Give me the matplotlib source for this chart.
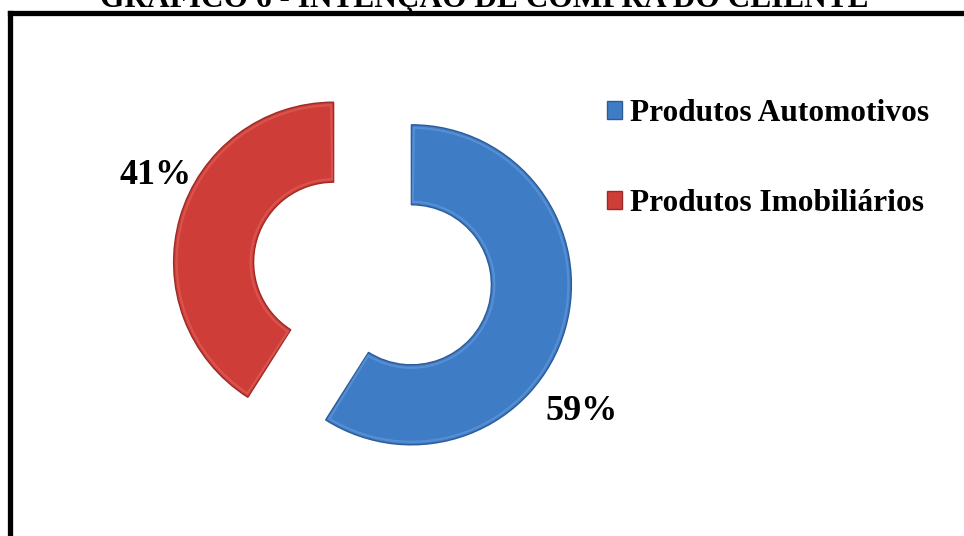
import matplotlib
matplotlib.use("Agg")
import matplotlib.pyplot as plt
from matplotlib.patches import Wedge
from matplotlib.lines import Line2D

# Data
categories = ["Produtos Automotivos", "Produtos Imobiliários"]
values = [59, 41]
colors = ["#3F7CC6", "#CF3D38"]
edge_colors = ["#2B5C98", "#9E2A26"]
light_colors = ["#7FB0EA", "#EE7D76"]
title = "GRÁFICO 6 - INTENÇÃO DE COMPRA DO CLIENTE"

W, H = 964, 536
plt.rcParams["font.family"] = ["Liberation Serif", "DejaVu Serif"]

fig = plt.figure(figsize=(W / 100, H / 100), dpi=100)
ax = fig.add_axes([0, 0, 1, 1])

# Donut in pixel-sized data units
radius = 160
ring = 80
center = (372.5, H - 273.5)
wedges, _ = ax.pie(
    values,
    colors=colors,
    startangle=90,
    counterclock=False,
    radius=radius,
    center=center,
    explode=[40.5, 40.5],
    wedgeprops=dict(width=ring, edgecolor="none", linewidth=0),
)

# bevel: dark rim plus soft light inner highlight
for w, ec, lc in zip(wedges, edge_colors, light_colors):
    w.set_edgecolor(ec)
    w.set_linewidth(1.0)
    w.set_zorder(2)
    hi = Wedge(w.center, w.r - 3, w.theta1 + 0.9, w.theta2 - 0.9,
               width=ring - 6, facecolor="none", edgecolor=lc,
               linewidth=1.6, alpha=0.35, zorder=3)
    ax.add_patch(hi)

ax.set_xlim(0, W)
ax.set_ylim(0, H)
ax.set_aspect("equal")
ax.axis("off")

# percentage labels
label_pos = [(582, H - 411), (156, H - 176)]
for v, (x, y) in zip(values, label_pos):
    ax.text(x, y, f"{v}%", ha="center", va="center", fontsize=26,
            fontweight="bold", color="black")

# legend
leg = ax.legend(
    wedges, categories,
    loc="upper left",
    bbox_to_anchor=(607 / W, (H - 99) / H),
    bbox_transform=fig.transFigure,
    frameon=False,
    prop=dict(family=["Liberation Serif"], weight="bold", size=22.6),
    handlelength=0.48, handleheight=0.48, handletextpad=0.25,
    labelspacing=1.95, borderpad=0, borderaxespad=0,
)

# frame around the chart (runs off the right and bottom)
lw = 3.8
fig.add_artist(Line2D([10 / W, 10 / W], [-0.05, (H - 12.5) / H],
                      transform=fig.transFigure, color="black", linewidth=lw,
                      solid_capstyle="projecting"))
fig.add_artist(Line2D([10 / W, 1.05], [(H - 12.5) / H, (H - 12.5) / H],
                      transform=fig.transFigure, color="black", linewidth=lw,
                      solid_capstyle="projecting"))

# title sits above the frame, partly outside the canvas
fig.text(484 / W, (H - 7.5) / H, title, ha="center", va="baseline",
         fontsize=22.6, fontweight="bold", color="black")

fig.savefig("out.png", dpi=100)
